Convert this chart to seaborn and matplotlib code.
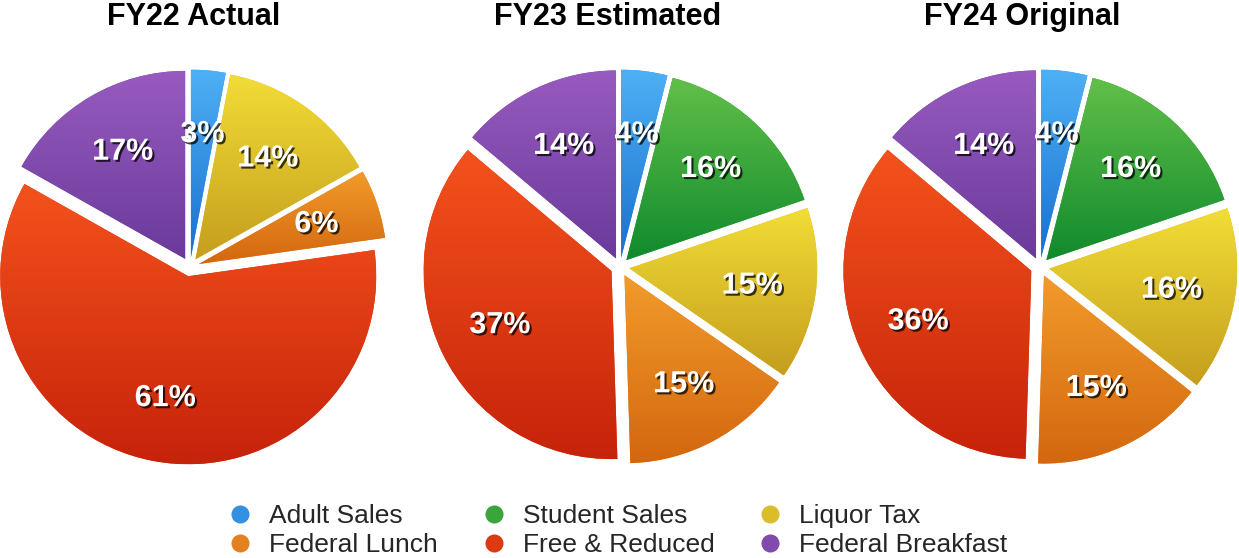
import numpy as np
import matplotlib
matplotlib.use("Agg")
import matplotlib.pyplot as plt
import matplotlib.patheffects as pe
from matplotlib.colors import LinearSegmentedColormap
from matplotlib.lines import Line2D
import seaborn as sns

# Chart data
categories = ["Adult Sales", "Student Sales", "Liquor Tax",
              "Federal Lunch", "Free & Reduced", "Federal Breakfast"]
titles = ["FY22 Actual", "FY23 Estimated", "FY24 Original"]
fy22 = [3, 0, 14, 6, 61, 17]
fy23 = [4, 16, 15, 15, 37, 14]
fy24 = [4, 16, 16, 15, 36, 14]

# (light top, dark bottom) for each category
light_colors = ["#4eb0f4", "#62c049", "#f2dd36", "#f29b2b", "#f4521c", "#985bbf"]
dark_colors = ["#1a70cf", "#108a2d", "#c59e1e", "#d3670f", "#c6230b", "#6a3a9b"]

sns.set_theme(style="white")
plt.rcParams["font.family"] = ["Liberation Sans", "DejaVu Sans"]

W, H = 1239, 558
fig = plt.figure(figsize=(W / 100, H / 100), dpi=100)

centers_px = [190, 620, 1040]
title_px = [194, 608, 1022]
radius_px = 188
lim = 1.1
size = 2 * lim * radius_px

shadow = [pe.withSimplePatchShadow(offset=(1.5, -1.5), shadow_rgbFace="black", alpha=0.75)]


def draw_pie(ax, values):
    keep = [i for i, v in enumerate(values) if v > 0]
    vals = [values[i] for i in keep]
    total = sum(vals)
    wedges, _, autotexts = ax.pie(
        vals,
        startangle=90,
        counterclock=False,
        explode=[0.05] * len(vals),
        colors=[sns.blend_palette([light_colors[i], dark_colors[i]], 3)[1] for i in keep],
        autopct=lambda p: f"{round(p * total / 100):.0f}%",
        pctdistance=0.66,
        wedgeprops=dict(linewidth=0),
        textprops=dict(color="white", fontsize=22, fontweight="bold"),
    )
    grad = np.linspace(0, 1, 256).reshape(-1, 1)
    for w, i in zip(wedges, keep):
        bb = w.get_path().get_extents()
        cmap = LinearSegmentedColormap.from_list("g", [light_colors[i], dark_colors[i]])
        im = ax.imshow(grad, extent=(bb.x0, bb.x1, bb.y0, bb.y1), cmap=cmap,
                       aspect="auto", origin="upper", zorder=2)
        im.set_clip_path(w)
    for t in autotexts:
        t.set_path_effects(shadow)
        t.set_zorder(4)
    ax.set_xlim(-lim, lim)
    ax.set_ylim(-lim, lim)
    ax.set_aspect("equal")
    ax.axis("off")


for cx, tx, title, vals in zip(centers_px, title_px, titles, [fy22, fy23, fy24]):
    ax = fig.add_axes([(cx - size / 2) / W, (H - 267 - size / 2) / H, size / W, size / H])
    draw_pie(ax, vals)
    fig.text(tx / W, 1 - 17 / H, title, ha="center", va="center",
             fontsize=22, fontweight="bold", color="black")

handles = [Line2D([0], [0], marker="o", linestyle="none", markersize=13,
                  markerfacecolor=sns.blend_palette([light_colors[i], dark_colors[i]], 3)[1],
                  markeredgewidth=0, label=categories[i])
           for i in [0, 3, 1, 4, 2, 5]]
fig.legend(handles=handles, loc="lower center", bbox_to_anchor=(0.497, -0.041), ncol=3,
           frameon=False, fontsize=19, handletextpad=0.5, columnspacing=1.5,
           labelspacing=0.2, handlelength=1.2)

fig.savefig("out.png", dpi=100)
